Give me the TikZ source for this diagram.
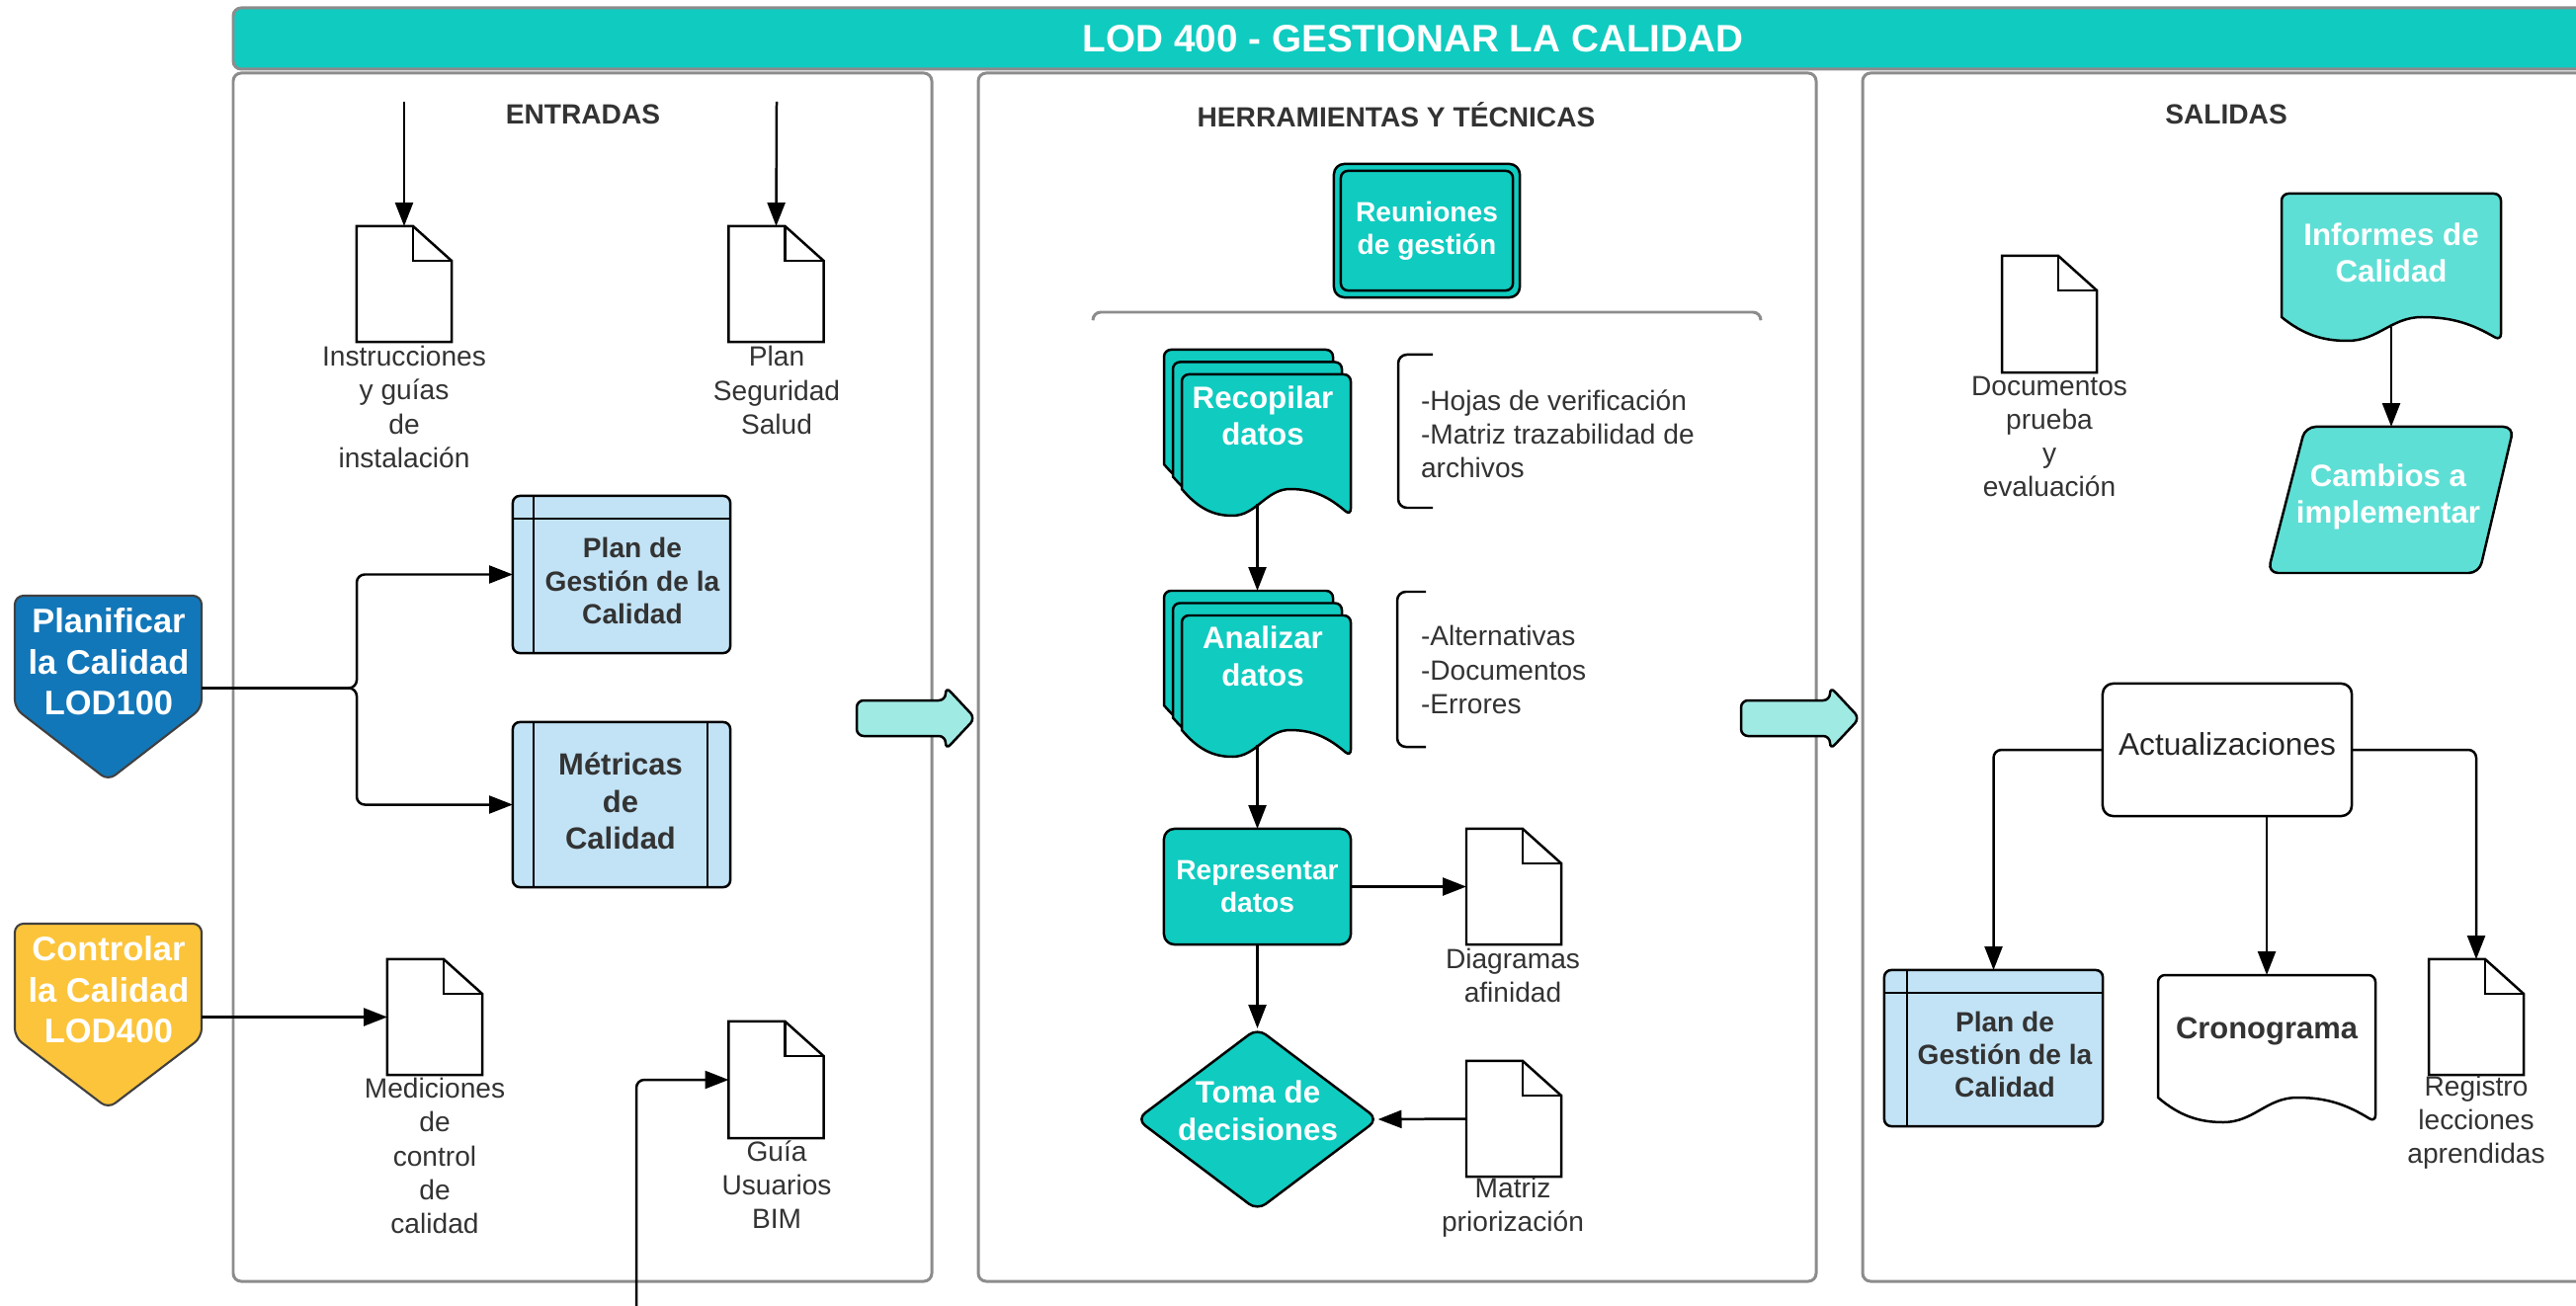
\documentclass[tikz,border=0pt]{standalone}
\usepackage{fontspec}
\setmainfont{Liberation Sans}
\usetikzlibrary{arrows.meta,calc}

\definecolor{tealmain}{HTML}{10CBC0}
\definecolor{tealpale}{HTML}{A0EAE4}
\definecolor{tealmid}{HTML}{5EDFD5}
\definecolor{planblue}{HTML}{1277B9}
\definecolor{ctrlyellow}{HTML}{FCC43A}
\definecolor{boxblue}{HTML}{C2E3F5}
\definecolor{framegray}{HTML}{8C8C8C}
\definecolor{inkgray}{HTML}{333333}

\tikzset{
  every node/.style={inner sep=0pt, outer sep=0pt},
  panelframe/.style={draw=framegray, line width=0.85pt, rounded corners=2.3pt},
  ink/.style={draw=black, line width=0.71pt},
  conn/.style={ink, -{Triangle[length=6.8pt,width=5.1pt]}, rounded corners=2.3pt},
  ghost/.style={rectangle, draw=none, fill=none},
  pageicon/.style={ghost, minimum width=0.96cm, minimum height=1.17cm},
  bluebox/.style={rectangle, ink, fill=boxblue, rounded corners=2pt},
  tealbox/.style={rectangle, ink, fill=tealmain, rounded corners=3pt},
  lbl/.style={text=inkgray, align=center, font=\fontsize{8}{9.7}\selectfont},
  heading/.style={text=inkgray, font=\bfseries\fontsize{8}{9.7}\selectfont},
  wtxt/.style={text=white, align=center, font=\bfseries\fontsize{8.9}{10.7}\selectfont},
  wtxtsm/.style={text=white, align=center, font=\bfseries\fontsize{8}{9.4}\selectfont},
  dtxt/.style={text=inkgray, align=center, font=\bfseries\fontsize{8}{9.5}\selectfont},
  sidetxt/.style={text=white, align=center, font=\bfseries\fontsize{9.8}{11.8}\selectfont},
}

% page icon with folded corner, drawn around a named node
\newcommand\pagefold[1]{%
  \draw[ink, fill=white] (#1.north west) -- ([xshift=-0.39cm]#1.north east)
    -- ([yshift=-0.35cm]#1.north east) -- (#1.south east) -- (#1.south west) -- cycle;
  \draw[ink] ([xshift=-0.39cm]#1.north east) |- ([yshift=-0.35cm]#1.north east);}

% sheet with wavy bottom: fill, left x, top y, width, left edge height, wave depth
\newcommand\wavesheet[6]{%
  \draw[ink, fill=#1] ({#2+#4},{#3+#5+#6})
    .. controls ({#2+0.87*#4},{#3+#5+0.3*#6}) and ({#2+0.78*#4},{#3+#5}) .. ({#2+0.64*#4},{#3+#5})
    .. controls ({#2+0.5*#4},{#3+#5}) and ({#2+0.44*#4},{#3+#5+#6}) .. ({#2+0.3*#4},{#3+#5+#6})
    .. controls ({#2+0.19*#4},{#3+#5+#6}) and ({#2+0.1*#4},{#3+#5+0.75*#6}) .. (#2,{#3+#5})
    [rounded corners=2pt] -- (#2,#3) -- ({#2+#4},#3) -- cycle;}

\begin{document}
\begin{tikzpicture}[x=0.01cm, y=-0.01cm]
\path[use as bounding box] (0,0) rectangle (2607,1322);
\clip (0,0) rectangle (2607,1322);

% ---------- title bar and panels ----------
\draw[panelframe, fill=tealmain] (236,8) rectangle (2660,70);
\node[text=white, font=\bfseries\fontsize{11}{13}\selectfont] (title) at (1430,39) {LOD 400 - GESTIONAR LA CALIDAD};

\draw[panelframe] (236,74) rectangle (943,1297);
\draw[panelframe] (990,74) rectangle (1838,1297);
\draw[panelframe] (1885,74) rectangle (2680,1297);

\node[heading] (h-in) at (590,116) {ENTRADAS};
\node[heading] (h-tools) at (1413,116) {HERRAMIENTAS Y TÉCNICAS};
\node[heading] (h-out) at (2253,116) {SALIDAS};

% ---------- ENTRADAS ----------
\node[pageicon] (doc-inst) at (409,287.5) {};
\pagefold{doc-inst}
\node[lbl] (lab-inst) at (409,412) {Instrucciones\\y guías\\de\\instalación};
\node[pageicon] (doc-seg) at (785.5,287.5) {};
\pagefold{doc-seg}
\node[lbl] (lab-seg) at (786,395) {Plan\\Seguridad\\Salud};
\coordinate (in-inst) at (409,103);
\coordinate (in-seg) at (786,103);
\draw[conn] (in-inst) -- (doc-inst.north);
\draw[conn] (in-seg) -- (doc-seg.north);

\node[bluebox, minimum width=2.2cm, minimum height=1.59cm] (plan-in) at (629,581.5) {};
\draw[ink] ([xshift=0.21cm]plan-in.north west) -- ([xshift=0.21cm]plan-in.south west);
\draw[ink] ([yshift=-0.23cm]plan-in.north west) -- ([yshift=-0.23cm]plan-in.north east);
\node[dtxt] (plan-in-t) at (640,588) {Plan de\\Gestión de la\\Calidad};

\node[bluebox, minimum width=2.2cm, minimum height=1.67cm] (metr) at (629,814.5) {};
\draw[ink] ([xshift=0.21cm]metr.north west) -- ([xshift=0.21cm]metr.south west);
\draw[ink] ([xshift=-0.23cm]metr.north east) -- ([xshift=-0.23cm]metr.south east);
\node[dtxt, font=\bfseries\fontsize{8.8}{10.7}\selectfont] (metr-t) at (628,811) {Métricas\\de\\Calidad};

% process tags on the left
\node[ghost, minimum width=1.89cm, minimum height=1.87cm] (planif) at (109.5,696.5) {};
\draw[draw=black!75, line width=0.6pt, fill=planblue, rounded corners=2.5pt]
  (15,603) -- (204,603) -- (204,717) -- (109.5,790) -- (15,717) -- cycle;
\node[sidetxt] (planif-t) at (110,670) {Planificar\\la Calidad\\LOD100};

\node[ghost, minimum width=1.89cm, minimum height=1.87cm] (ctrl) at (109.5,1029.5) {};
\draw[draw=black!75, line width=0.6pt, fill=ctrlyellow, rounded corners=2.5pt]
  (15,935) -- (204,935) -- (204,1050) -- (109.5,1122) -- (15,1050) -- cycle;
\node[sidetxt] (ctrl-t) at (110,1002) {Controlar\\la Calidad\\LOD400};

\coordinate (split) at (361,696.5);
\draw[conn] (planif.east) -- (split) |- (plan-in.west);
\draw[conn] (planif.east) -- (split) |- (metr.west);

\node[pageicon] (doc-med) at (440,1029.5) {};
\pagefold{doc-med}
\node[lbl] (lab-med) at (440,1170) {Mediciones\\de\\control\\de\\calidad};
\draw[conn] (ctrl.east) -- (doc-med.west);

\node[pageicon, minimum height=1.18cm] (doc-bim) at (785.5,1093) {};
\pagefold{doc-bim}
\node[lbl] (lab-bim) at (786,1199) {Guía\\Usuarios\\BIM};
\coordinate (in-bim) at (644,1340);
\draw[conn] (in-bim) |- (doc-bim.west);

% ---------- flow arrows between panels ----------
\draw[ink, fill=tealpale, rounded corners=2pt]
  (867,709) -- (957,709) -- (957,695) -- (987,727) -- (957,759) -- (957,745) -- (867,745) -- cycle;
\draw[ink, fill=tealpale, rounded corners=2pt]
  (1762,709) -- (1852,709) -- (1852,695) -- (1882,727) -- (1852,759) -- (1852,745) -- (1762,745) -- cycle;

% ---------- HERRAMIENTAS Y TECNICAS ----------
\node[tealbox, wtxtsm, minimum width=1.88cm, minimum height=1.35cm] (reu) at (1444,233.5) {Reuniones\\de gestión};
\draw[ink, rounded corners=2pt] ([shift={(0.07cm,-0.07cm)}]reu.north west) rectangle ([shift={(-0.07cm,0.07cm)}]reu.south east);

\draw[panelframe] (1106,324) -- (1106,316) -- (1782,316) -- (1782,324);

\wavesheet{tealmain}{1178}{354}{171}{116}{27}
\wavesheet{tealmain}{1187}{366.5}{171}{116}{27}
\wavesheet{tealmain}{1196}{379}{171}{116}{27}
\node[ghost, minimum width=1.89cm, minimum height=1.56cm] (rec) at (1272.5,432) {};
\node[wtxt] (rec-t) at (1278,421) {Recopilar\\datos};

\wavesheet{tealmain}{1178}{598}{171}{116}{27}
\wavesheet{tealmain}{1187}{610.5}{171}{116}{27}
\wavesheet{tealmain}{1196}{623}{171}{116}{27}
\node[ghost, minimum width=1.89cm, minimum height=1.56cm] (ana) at (1272.5,676) {};
\node[wtxt] (ana-t) at (1278,664) {Analizar\\datos};

\draw[ink, rounded corners=2.5pt] (1450,359) -- (1415,359) -- (1415,514) -- (1450,514);
\node[lbl, align=left, anchor=west] (notes-rec) at (1438,439) {-Hojas de verificación\\-Matriz trazabilidad de\\archivos};
\draw[ink, rounded corners=2.5pt] (1443,599) -- (1414,599) -- (1414,756) -- (1443,756);
\node[lbl, align=left, anchor=west] (notes-ana) at (1438,678) {-Alternativas\\-Documentos\\-Errores};

\node[tealbox, wtxtsm, minimum width=1.89cm, minimum height=1.17cm] (rep) at (1272.5,897.5) {Representar\\datos};

\node[pageicon] (doc-afin) at (1532,897.5) {};
\pagefold{doc-afin}
\node[lbl] (lab-afin) at (1531,987.5) {Diagramas\\afinidad};

\node[ghost, minimum width=2.44cm, minimum height=1.84cm] (toma) at (1272.5,1133) {};
\draw[ink, fill=tealmain, rounded corners=3pt] (toma.north) -- (toma.east) -- (toma.south) -- (toma.west) -- cycle;
\node[wtxt] (toma-t) at (1273,1124) {Toma de\\decisiones};

\node[pageicon] (doc-prio) at (1532,1132.5) {};
\pagefold{doc-prio}
\node[lbl] (lab-prio) at (1531,1222.5) {Matriz\\priorización};

\draw[conn] (rec.south) -- (ana.north);
\draw[conn] (ana.south) -- (rep.north);
\draw[conn] (rep.east) -- (doc-afin.west);
\draw[conn] (rep.south) -- (toma.north);
\draw[conn] (doc-prio.west) -- (toma.east);

% ---------- SALIDAS ----------
\node[pageicon, minimum height=1.18cm] (doc-prueba) at (2074,318) {};
\pagefold{doc-prueba}
\node[lbl] (lab-prueba) at (2074,442) {Documentos\\prueba\\y\\evaluación};

\wavesheet{tealmid}{2309}{196}{222}{125}{24}
\node[ghost, minimum width=2.22cm, minimum height=1.35cm] (inf) at (2420,263.5) {};
\node[wtxt] (inf-t) at (2420,256) {Informes de\\Calidad};

\node[ghost, minimum width=2.15cm, minimum height=1.48cm] (camb) at (2420,506) {};
\draw[ink, fill=tealmid, rounded corners=3pt] (2333,432) -- (2544,432) -- (2509,580) -- (2295,580) -- cycle;
\node[wtxt] (camb-t) at (2417,503) {Cambios a\\implementar};
\draw[conn] (inf.south) -- (camb.north);

\node[rectangle, ink, fill=white, rounded corners=3pt, minimum width=2.52cm, minimum height=1.34cm,
      text depth=0.12cm, text=black!85, font=\fontsize{9}{11}\selectfont] (act) at (2254,759) {Actualizaciones};

\node[bluebox, minimum width=2.21cm, minimum height=1.58cm] (plan-out) at (2017.5,1061) {};
\draw[ink] ([xshift=0.23cm]plan-out.north west) -- ([xshift=0.23cm]plan-out.south west);
\draw[ink] ([yshift=-0.23cm]plan-out.north west) -- ([yshift=-0.23cm]plan-out.north east);
\node[dtxt] (plan-out-t) at (2029,1067.5) {Plan de\\Gestión de la\\Calidad};

\wavesheet{white}{2184}{987}{220}{124}{25}
\node[ghost, minimum width=2.2cm, minimum height=1.35cm] (cron) at (2294,1054.5) {};
\node[dtxt, font=\bfseries\fontsize{8.8}{10.6}\selectfont] (cron-t) at (2294,1044) {Cronograma};

\node[pageicon] (doc-lecc) at (2506,1029.5) {};
\pagefold{doc-lecc}
\node[lbl] (lab-lecc) at (2506,1136.5) {Registro\\lecciones\\aprendidas};

\draw[conn] (act.west) -| (plan-out.north);
\draw[conn] (act.south -| cron.north) -- (cron.north);
\draw[conn] (act.east) -| (doc-lecc.north);
\end{tikzpicture}
\end{document}
